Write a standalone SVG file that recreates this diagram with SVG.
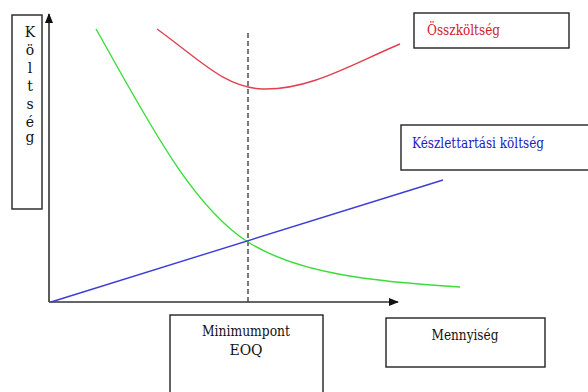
<svg xmlns="http://www.w3.org/2000/svg" width="588" height="392" viewBox="0 0 588 392">
<defs>
<style>
.box{fill:#fff;stroke:#222;stroke-width:1.4}
.t{font-family:'DejaVu Serif',serif;font-size:14px;fill:#111}
.axis{stroke:#333;stroke-width:1.6;fill:none}
.curve{fill:none;stroke-width:1.4}
</style>
<marker id="arr" markerWidth="10" markerHeight="8" refX="9" refY="4" orient="auto" markerUnits="userSpaceOnUse">
<path d="M0,0 L10,4 L0,8 Z" fill="#111"/>
</marker>
</defs>
<rect width="588" height="392" fill="#fff"/>
<g id="connectors">
<line class="axis" x1="49" y1="302" x2="49" y2="14" marker-end="url(#arr)"/>
<line class="axis" x1="49" y1="302" x2="398" y2="302" marker-end="url(#arr)"/>
<line x1="248" y1="33" x2="248" y2="302" stroke="#333" stroke-width="1.3" stroke-dasharray="5,3"/>
<path class="curve" stroke="#e04050" d="M157,29 C200,60 225,88 263,89 C310,90 350,65 400,44"/>
<path class="curve" stroke="#3cdc3c" d="M96,29 C145,115 190,205 248,242 C300,275 380,282 460,287"/>
<line class="curve" stroke="#3c3cd8" x1="51" y1="302" x2="443" y2="180"/>
</g>
<g id="koltseg">
<rect class="box" x="12" y="15" width="30" height="194"/>
<text class="t" text-anchor="middle" x="30" y="37">K</text>
<text class="t" text-anchor="middle" x="30" y="55">ö</text>
<text class="t" text-anchor="middle" x="30" y="73">l</text>
<text class="t" text-anchor="middle" x="30" y="91">t</text>
<text class="t" text-anchor="middle" x="30" y="109">s</text>
<text class="t" text-anchor="middle" x="30" y="127">é</text>
<text class="t" text-anchor="middle" x="30" y="142">g</text>
</g>
<g id="osszkoltseg">
<rect class="box" x="414" y="13" width="155" height="35"/>
<text class="t" x="427" y="35" textLength="73" lengthAdjust="spacingAndGlyphs" style="fill:#d02030">Összköltség</text>
</g>
<g id="keszlettartasi">
<rect class="box" x="401" y="125" width="200" height="45"/>
<text class="t" x="412" y="148" textLength="132" lengthAdjust="spacingAndGlyphs" style="fill:#2020c0">Készlettartási költség</text>
</g>
<g id="minimumpont">
<rect class="box" x="170" y="315" width="153" height="90"/>
<text class="t" text-anchor="middle" x="246" y="336" textLength="88" lengthAdjust="spacingAndGlyphs">Minimumpont</text>
<text class="t" text-anchor="middle" x="246" y="355">EOQ</text>
</g>
<g id="mennyiseg">
<rect class="box" x="386" y="318" width="159" height="49"/>
<text class="t" text-anchor="middle" x="465" y="340" textLength="67" lengthAdjust="spacingAndGlyphs">Mennyiség</text>
</g>
</svg>
